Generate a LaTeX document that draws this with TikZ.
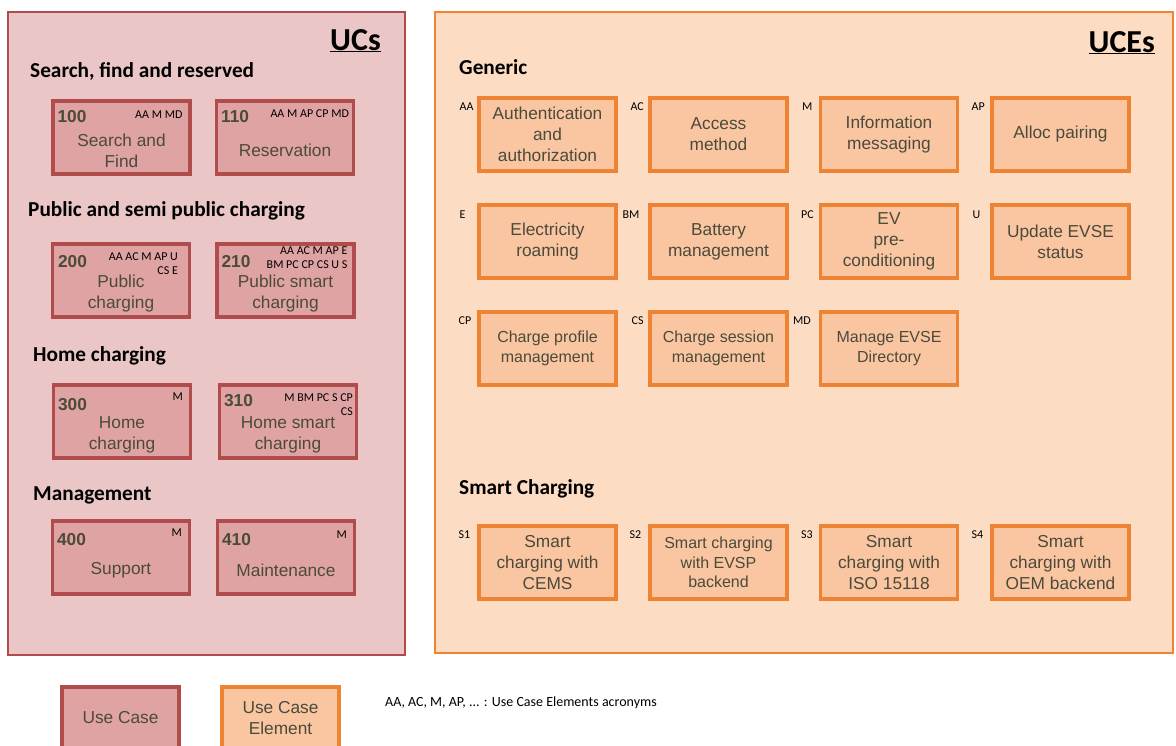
\documentclass[tikz,border=0pt]{standalone}
\usepackage{fontspec}
\setmainfont{Liberation Sans}
\newfontfamily\calfont{Carlito}
\usetikzlibrary{calc}

\definecolor{ucback}{HTML}{EBC6C6}
\definecolor{ucline}{HTML}{B04C4C}
\definecolor{ucfill}{HTML}{E0A3A3}
\definecolor{uceback}{HTML}{FCDCC3}
\definecolor{uceline}{HTML}{EE8433}
\definecolor{ucefill}{HTML}{FAC6A1}
\definecolor{boxtext}{HTML}{4B4A3C}

\tikzset{
  ucbox/.style={draw=ucline, fill=ucfill, line width=3.2pt, minimum width=137pt, minimum height=73pt, inner sep=0pt},
  ucebox/.style={draw=uceline, fill=ucefill, line width=3.2pt, minimum width=137pt, minimum height=73pt, inner sep=0pt, align=center, text=boxtext, font=\fontsize{17.3}{21}\selectfont},
  small/.style={font=\fontsize{16}{19.5}\selectfont},
  uctext/.style={text=boxtext, align=center, inner sep=0pt, font=\fontsize{17.3}{21}\selectfont},
  ucnum/.style={text=boxtext, anchor=base west, inner sep=0pt, font=\bfseries\fontsize{17.3}{21}\selectfont},
  acro/.style={align=right, anchor=north east, inner sep=0pt, font=\calfont\fontsize{12}{14}\selectfont},
  ucelbl/.style={anchor=north west, inner sep=0pt, font=\calfont\fontsize{12}{14}\selectfont},
  head/.style={anchor=base west, inner sep=0pt, font=\calfont\bfseries\fontsize{21.3}{25}\selectfont},
  title/.style={anchor=base east, inner sep=0pt, font=\calfont\bfseries\fontsize{32}{38}\selectfont},
}

\begin{document}
\begin{tikzpicture}[x=1pt, y=-1pt]

   \clip (0,0) rectangle (1176,745);
   \fill [white] (0,0) rectangle (1176,745);

   % 枠
   \draw [draw=ucline, fill=ucback, line width=2.8pt] (8,12) rectangle (405,655);
   \draw [draw=uceline, fill=uceback, line width=2.8pt] (435,12) rectangle (1173,653);
   \node [title] (ucs) at (381,50) {\underline{UCs}};
   \node [title] (uces) at (1155,52) {\underline{UCEs}};

   % UCs 見出し
   \node [head] (h1) at (30,77) {Search, find and reserved};
   \node [head] (h2) at (28,216) {Public and semi public charging};
   \node [head] (h3) at (33,361) {Home charging};
   \node [head] (h4) at (33,500) {Management};

   % 100, 110
   \node [ucbox] (uc100) at (121.5,137.5) {};
   \node [ucnum] (n100) at ($(uc100.north west)+(6,23)$) {100};
   \node [acro] (a100) at ($(uc100.north east)+(-9,11)$) {AA M MD};
   \node [uctext] (t100) at ($(uc100.center)+(0,13)$) {Search and\\Find};

   \node [ucbox] (uc110) at (285,137.5) {};
   \node [ucnum] (n110) at ($(uc110.north west)+(6,23)$) {110};
   \node [acro] (a110) at ($(uc110.north east)+(-6,10)$) {AA M AP CP MD};
   \node [uctext] (t110) at ($(uc110.center)+(0,13)$) {Reservation};

   % 200, 210
   \node [ucbox] (uc200) at (121,280.5) {};
   \node [ucnum] (n200) at ($(uc200.north west)+(7,25)$) {200};
   \node [acro] (a200) at ($(uc200.north east)+(-13,10)$) {AA AC M AP U\\CS E};
   \node [uctext] (t200) at ($(uc200.center)+(0,13)$) {Public\\charging};

   \node [ucbox] (uc210) at (285.5,280.5) {};
   \node [ucnum] (n210) at ($(uc210.north west)+(6,25)$) {210};
   \node [acro] (a210) at ($(uc210.north east)+(-8,4)$) {AA AC M AP E\\BM PC CP CS U S};
   \node [uctext] (t210) at ($(uc210.center)+(0,13)$) {Public smart\\charging};

   % 300, 310
   \node [ucbox] (uc300) at (122,421.5) {};
   \node [ucnum] (n300) at ($(uc300.north west)+(6,27)$) {300};
   \node [acro] (a300) at ($(uc300.north east)+(-9,9)$) {M};
   \node [uctext] (t300) at ($(uc300.center)+(0,13)$) {Home\\charging};

   \node [ucbox] (uc310) at (288,421.5) {};
   \node [ucnum] (n310) at ($(uc310.north west)+(6,23)$) {310};
   \node [acro] (a310) at ($(uc310.north east)+(-5,10)$) {M BM PC S CP\\CS};
   \node [uctext] (t310) at ($(uc310.center)+(0,13)$) {Home smart\\charging};

   % 400, 410
   \node [ucbox] (uc400) at (121,557.5) {};
   \node [ucnum] (n400) at ($(uc400.north west)+(6,26)$) {400};
   \node [acro] (a400) at ($(uc400.north east)+(-9,9)$) {M};
   \node [uctext] (t400) at ($(uc400.center)+(0,13)$) {Support};

   \node [ucbox] (uc410) at (286,557.5) {};
   \node [ucnum] (n410) at ($(uc410.north west)+(6,26)$) {410};
   \node [acro] (a410) at ($(uc410.north east)+(-9,11)$) {M};
   \node [uctext] (t410) at ($(uc410.center)+(0,13)$) {Maintenance};

   % UCEs: Generic
   \node [head] (h5) at (459,74) {Generic};

   \node [ucebox] (aa) at (547.5,134.5) {Authentication\\and\\authorization};
   \node [ucebox] (ac) at (718.5,134.5) {Access\\method};
   \node [ucebox] (m) at (889,134.5) {Information\\messaging};
   \node [ucebox] (ap) at (1060.5,134.5) {Alloc pairing};

   \node [ucebox] (e) at (547.5,241.5) {Electricity\\roaming};
   \node [ucebox] (bm) at (718.5,241.5) {Battery\\management};
   \node [ucebox] (pc) at (889,241.5) {EV\\pre-\\conditioning};
   \node [ucebox] (u) at (1060.5,241.5) {Update EVSE\\status};

   \node [ucebox, small] (cp) at (547.5,348.5) {Charge profile\\management};
   \node [ucebox, small] (cs) at (718.5,348.5) {Charge session\\management};
   \node [ucebox, small] (md) at (889,348.5) {Manage EVSE\\Directory};

   \node [ucelbl] (laa) at ($(aa.north west)+(-18,6)$) {AA};
   \node [ucelbl] (lac) at ($(ac.north west)+(-18,6)$) {AC};
   \node [ucelbl] (lm) at ($(m.north west)+(-17,6)$) {M};
   \node [ucelbl] (lap) at ($(ap.north west)+(-19,6)$) {AP};
   \node [ucelbl] (le) at ($(e.north west)+(-18,7)$) {E};
   \node [ucelbl] (lbm) at ($(bm.north west)+(-26,7)$) {BM};
   \node [ucelbl] (lpc) at ($(pc.north west)+(-18,7)$) {PC};
   \node [ucelbl] (lu) at ($(u.north west)+(-18,7)$) {U};
   \node [ucelbl] (lcp) at ($(cp.north west)+(-19,6)$) {CP};
   \node [ucelbl] (lcs) at ($(cs.north west)+(-17,6)$) {CS};
   \node [ucelbl] (lmd) at ($(md.north west)+(-26,6)$) {MD};

   % UCEs: Smart Charging
   \node [head] (h6) at (459,494) {Smart Charging};

   \node [ucebox] (s1) at (547.5,562.5) {Smart\\charging with\\CEMS};
   \node [ucebox, small] (s2) at (718.5,562.5) {Smart charging\\with EVSP\\backend};
   \node [ucebox] (s3) at (889,562.5) {Smart\\charging with\\ISO 15118};
   \node [ucebox] (s4) at (1060.5,562.5) {Smart\\charging with\\OEM backend};

   \node [ucelbl] (ls1) at ($(s1.north west)+(-19,6)$) {S1};
   \node [ucelbl] (ls2) at ($(s2.north west)+(-19,6)$) {S2};
   \node [ucelbl] (ls3) at ($(s3.north west)+(-18,6)$) {S3};
   \node [ucelbl] (ls4) at ($(s4.north west)+(-19,6)$) {S4};

   % 凡例
   \node [ucbox, minimum width=117pt, minimum height=62pt, text=boxtext, font=\fontsize{17.3}{21}\selectfont] (kuc) at (120.5,718) {Use Case};
   \node [ucebox, minimum width=117pt, minimum height=62pt] (kuce) at (280.5,718) {Use Case\\Element};
   \node [anchor=base west, inner sep=0pt, font=\calfont\fontsize{14}{17}\selectfont] (key) at (385,706) {AA, AC, M, AP, ... : Use Case Elements acronyms};

\end{tikzpicture}
\end{document}
